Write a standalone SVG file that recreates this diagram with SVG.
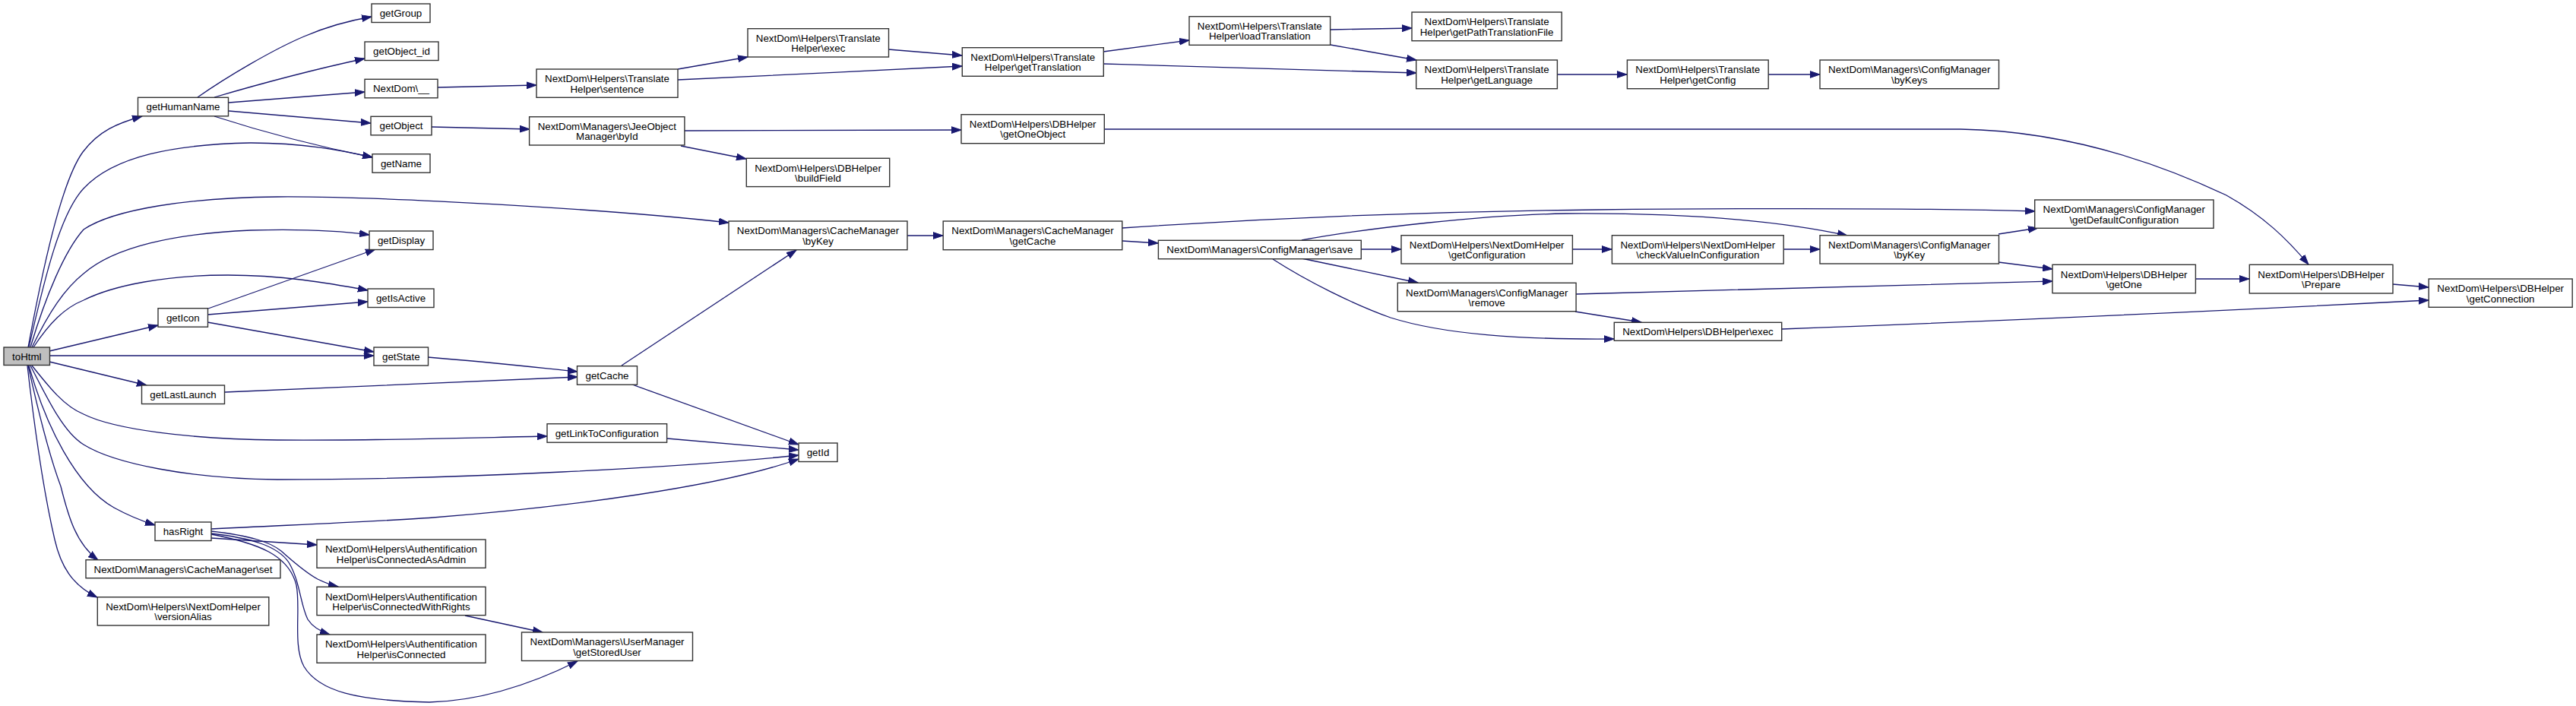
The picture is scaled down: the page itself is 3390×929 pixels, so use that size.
<svg xmlns="http://www.w3.org/2000/svg" width="3390" height="929" viewBox="0 0 3390 929">
<style>
.n rect{fill:#fff;stroke:#333;stroke-width:1.4}
.n rect.root{fill:#bfbfbf}
.n text{font-family:"Liberation Sans",Arial,Helvetica,sans-serif;font-size:13.33px;text-anchor:middle;fill:#000}
.e path{fill:none;stroke:#191970;stroke-width:1.3;marker-end:url(#a)}
</style>
<defs>
<marker id="a" markerUnits="userSpaceOnUse" markerWidth="14" markerHeight="10" viewBox="0 0 14 10" refX="13" refY="5" orient="auto">
<path d="M0,0.6 L13,5 L0,9.4 z" fill="#191970" stroke="#191970" stroke-width="1"/>
</marker>
</defs>
<rect width="3390" height="929" fill="#fff"/>
<g id="edges" class="e">
<path d="M37,457 C55,360 80,240 109,200 C130,172 155,162 187,153"/>
<path d="M38,457 C60,360 80,280 110,248 C150,205 230,190 330,188 C400,188 450,198 490,207"/>
<path d="M40,457 C60,390 85,330 110,302 C150,275 250,260 365,259 C500,258 800,275 959,293"/>
<path d="M42,457 C65,410 85,380 110,360 C150,325 230,307 330,303 C400,301 450,304 486,309"/>
<path d="M44,457 C65,425 85,405 110,395 C150,375 220,362 300,362 C370,362 430,372 484,382"/>
<path d="M65,462 L208,428"/>
<path d="M65,468 L492,468"/>
<path d="M65,476 L193,507"/>
<path d="M42,481 C65,510 85,535 110,545 C150,565 250,578 365,579 C500,580 620,576 720,574"/>
<path d="M40,481 C65,530 85,570 110,585 C150,610 250,630 365,631 C600,631 900,615 1051,599"/>
<path d="M38,481 C60,560 100,640 150,668 C170,679 185,685 204,691"/>
<path d="M37,481 C50,540 65,600 80,640 C90,680 100,715 129,737"/>
<path d="M36,481 C45,560 58,650 72,710 C80,745 95,770 128,786"/>
<path d="M260,128 C300,100 360,65 400,48 C430,35 460,27 489,22"/>
<path d="M282,128 C350,108 420,90 480,77"/>
<path d="M301,135 L480,121"/>
<path d="M301,146 L488,162"/>
<path d="M282,153 C350,175 420,193 490,207"/>
<path d="M274,406 L494,328"/>
<path d="M273,414 L484,397"/>
<path d="M273,424 L492,463"/>
<path d="M563,470 C650,477 710,484 760,489"/>
<path d="M296,516 C450,510 650,500 760,496"/>
<path d="M818,481 L1048,329"/>
<path d="M832,506 L1051,585"/>
<path d="M878,577 L1051,592"/>
<path d="M278,696 C400,690 500,686 570,681 C750,667 950,640 1051,604"/>
<path d="M278,708 L417,717"/>
<path d="M278,699 C330,705 355,713 370,725 C385,738 400,752 418,762 C428,767 436,770 445,772"/>
<path d="M278,702 C330,708 365,718 380,740 C395,765 395,795 405,815 C412,826 422,831 434,835"/>
<path d="M278,703 C340,715 380,730 390,770 C396,800 385,850 400,877 C420,910 470,922 565,924 C640,922 710,895 760,870"/>
<path d="M612,810 L714,832"/>
<path d="M576,115 L706,112"/>
<path d="M568,167 L697,170"/>
<path d="M892,91 L984,75"/>
<path d="M892,105 C1000,100 1150,93 1266,87"/>
<path d="M1169,65 L1266,73"/>
<path d="M1452,68 L1565,53"/>
<path d="M1452,84 C1600,88 1750,92 1864,96"/>
<path d="M1751,39 L1858,37"/>
<path d="M1751,59 L1864,79"/>
<path d="M2049,98 L2141,98"/>
<path d="M2327,98 L2395,98"/>
<path d="M901,172 L1265,171"/>
<path d="M896,192 L982,209"/>
<path d="M1453,170 L2580,170 C2700,172 2820,205 2930,257 C2980,285 3010,315 3038,348"/>
<path d="M1194,310 L1241,310"/>
<path d="M1477,317 L1524,320"/>
<path d="M1477,300 C1700,285 1900,278 2100,276 C2300,274 2500,273 2678,278"/>
<path d="M1713,316 C1800,300 1950,283 2060,281 C2200,280 2330,288 2431,310"/>
<path d="M1791,328 L1844,328"/>
<path d="M1713,340 L1866,372"/>
<path d="M1675,341 C1720,370 1780,400 1830,418 C1900,440 2000,447 2124,446"/>
<path d="M2069,328 L2121,328"/>
<path d="M2347,328 L2395,328"/>
<path d="M2630,308 L2682,300"/>
<path d="M2630,345 L2701,354"/>
<path d="M2074,387 C2300,382 2500,376 2701,370"/>
<path d="M2073,410 L2160,424"/>
<path d="M2345,433 C2700,420 3000,405 3196,395"/>
<path d="M2889,367 L2960,367"/>
<path d="M3149,374 L3196,378"/>
</g>
<g id="toHtml" class="n"><rect class="root" x="5" y="457" width="60.5" height="23.5"/><text x="35.3" y="474">toHtml</text></g>
<g id="getHumanName" class="n"><rect x="181.5" y="128.3" width="119" height="24.5"/><text x="241" y="145.3">getHumanName</text></g>
<g id="getGroup" class="n"><rect x="489" y="5" width="77" height="24.5"/><text x="527.5" y="22">getGroup</text></g>
<g id="getObject_id" class="n"><rect x="480" y="55" width="97" height="24.5"/><text x="528.5" y="72">getObject_id</text></g>
<g id="nextdom__" class="n"><rect x="480" y="104.3" width="96" height="24.5"/><text x="528" y="121.3">NextDom\__</text></g>
<g id="getObject" class="n"><rect x="488" y="153.3" width="80" height="24.5"/><text x="528" y="170.3">getObject</text></g>
<g id="getName" class="n"><rect x="490" y="202.7" width="76" height="24.5"/><text x="528" y="219.7">getName</text></g>
<g id="getDisplay" class="n"><rect x="486" y="304" width="84" height="24.5"/><text x="528" y="321">getDisplay</text></g>
<g id="getIsActive" class="n"><rect x="484" y="380" width="87" height="24.5"/><text x="527.5" y="397">getIsActive</text></g>
<g id="getIcon" class="n"><rect x="208" y="405.7" width="65.5" height="24.5"/><text x="240.8" y="422.7">getIcon</text></g>
<g id="getState" class="n"><rect x="492" y="457" width="71.5" height="24"/><text x="527.8" y="474">getState</text></g>
<g id="getLastLaunch" class="n"><rect x="186.5" y="507" width="109" height="24.5"/><text x="241" y="524">getLastLaunch</text></g>
<g id="hasRight" class="n"><rect x="204" y="687" width="74" height="24.5"/><text x="241" y="704">hasRight</text></g>
<g id="cacheSet" class="n"><rect x="113" y="736.7" width="256" height="24"/><text x="241" y="753.7">NextDom\Managers\CacheManager\set</text></g>
<g id="versionAlias" class="n"><rect x="128.3" y="785.7" width="225.5" height="37.3"/><text x="241" y="803">NextDom\Helpers\NextDomHelper</text><text x="241" y="816.4">\versionAlias</text></g>
<g id="isConnectedAsAdmin" class="n"><rect x="417" y="710" width="222" height="37.3"/><text x="528" y="727.3">NextDom\Helpers\Authentification</text><text x="528" y="740.7">Helper\isConnectedAsAdmin</text></g>
<g id="isConnectedWithRights" class="n"><rect x="417" y="772.3" width="222" height="37.3"/><text x="528" y="789.6">NextDom\Helpers\Authentification</text><text x="528" y="803">Helper\isConnectedWithRights</text></g>
<g id="isConnected" class="n"><rect x="417" y="835" width="222" height="37.3"/><text x="528" y="852.3">NextDom\Helpers\Authentification</text><text x="528" y="865.7">Helper\isConnected</text></g>
<g id="getCache" class="n"><rect x="759.5" y="481.7" width="79" height="24.5"/><text x="799" y="498.7">getCache</text></g>
<g id="getLinkToConfiguration" class="n"><rect x="720" y="557.7" width="157.6" height="24.5"/><text x="798.8" y="574.7">getLinkToConfiguration</text></g>
<g id="getId" class="n"><rect x="1051" y="583" width="51" height="24.5"/><text x="1076.5" y="600">getId</text></g>
<g id="getStoredUser" class="n"><rect x="686.5" y="832" width="225" height="37.5"/><text x="799" y="849.3">NextDom\Managers\UserManager</text><text x="799" y="862.7">\getStoredUser</text></g>
<g id="sentence" class="n"><rect x="706" y="91" width="186" height="37.3"/><text x="799" y="108.3">NextDom\Helpers\Translate</text><text x="799" y="121.7">Helper\sentence</text></g>
<g id="byId" class="n"><rect x="696.6" y="153.7" width="204.3" height="37.3"/><text x="798.8" y="171">NextDom\Managers\JeeObject</text><text x="798.8" y="184.4">Manager\byId</text></g>
<g id="translateExec" class="n"><rect x="984" y="37.7" width="185.5" height="37.3"/><text x="1076.8" y="55">NextDom\Helpers\Translate</text><text x="1076.8" y="68.4">Helper\exec</text></g>
<g id="buildField" class="n"><rect x="982.3" y="208.3" width="188.4" height="37.3"/><text x="1076.5" y="225.6">NextDom\Helpers\DBHelper</text><text x="1076.5" y="239">\buildField</text></g>
<g id="cacheByKey" class="n"><rect x="959" y="291" width="235" height="37.7"/><text x="1076.5" y="308.3">NextDom\Managers\CacheManager</text><text x="1076.5" y="321.7">\byKey</text></g>
<g id="getTranslation" class="n"><rect x="1266.3" y="62.7" width="186" height="37.6"/><text x="1359.3" y="80">NextDom\Helpers\Translate</text><text x="1359.3" y="93.4">Helper\getTranslation</text></g>
<g id="getOneObject" class="n"><rect x="1265" y="150.7" width="188.3" height="38"/><text x="1359.2" y="168">NextDom\Helpers\DBHelper</text><text x="1359.2" y="181.4">\getOneObject</text></g>
<g id="cacheGetCache" class="n"><rect x="1241.2" y="291" width="235.6" height="37.7"/><text x="1359" y="308.3">NextDom\Managers\CacheManager</text><text x="1359" y="321.7">\getCache</text></g>
<g id="loadTranslation" class="n"><rect x="1565" y="21.7" width="185.6" height="37.6"/><text x="1657.8" y="39">NextDom\Helpers\Translate</text><text x="1657.8" y="52.4">Helper\loadTranslation</text></g>
<g id="configSave" class="n"><rect x="1524.4" y="316.3" width="266.9" height="24.4"/><text x="1657.9" y="333.3">NextDom\Managers\ConfigManager\save</text></g>
<g id="getPathTranslationFile" class="n"><rect x="1858" y="16" width="197.2" height="37.7"/><text x="1956.6" y="33.3">NextDom\Helpers\Translate</text><text x="1956.6" y="46.7">Helper\getPathTranslationFile</text></g>
<g id="getLanguage" class="n"><rect x="1863.7" y="79" width="185.7" height="37.7"/><text x="1956.6" y="96.3">NextDom\Helpers\Translate</text><text x="1956.6" y="109.7">Helper\getLanguage</text></g>
<g id="getConfig" class="n"><rect x="2141.4" y="79" width="185.8" height="37.7"/><text x="2234.3" y="96.3">NextDom\Helpers\Translate</text><text x="2234.3" y="109.7">Helper\getConfig</text></g>
<g id="getConfiguration" class="n"><rect x="1844" y="309.7" width="225.4" height="37.3"/><text x="1956.7" y="327">NextDom\Helpers\NextDomHelper</text><text x="1956.7" y="340.4">\getConfiguration</text></g>
<g id="configRemove" class="n"><rect x="1839.3" y="372.3" width="234.8" height="37.4"/><text x="1956.7" y="389.6">NextDom\Managers\ConfigManager</text><text x="1956.7" y="403">\remove</text></g>
<g id="dbExec" class="n"><rect x="2124.3" y="424.3" width="220.4" height="24"/><text x="2234.5" y="441.3">NextDom\Helpers\DBHelper\exec</text></g>
<g id="checkValueInConfiguration" class="n"><rect x="2121.4" y="309.7" width="225.8" height="37.3"/><text x="2234.3" y="327">NextDom\Helpers\NextDomHelper</text><text x="2234.3" y="340.4">\checkValueInConfiguration</text></g>
<g id="byKeys" class="n"><rect x="2395" y="79" width="235.5" height="37.7"/><text x="2512.7" y="96.3">NextDom\Managers\ConfigManager</text><text x="2512.7" y="109.7">\byKeys</text></g>
<g id="configByKey" class="n"><rect x="2395" y="309.7" width="235.5" height="37.3"/><text x="2512.7" y="327">NextDom\Managers\ConfigManager</text><text x="2512.7" y="340.4">\byKey</text></g>
<g id="getDefaultConfiguration" class="n"><rect x="2677.7" y="263" width="235.3" height="37.3"/><text x="2795.3" y="280.3">NextDom\Managers\ConfigManager</text><text x="2795.3" y="293.7">\getDefaultConfiguration</text></g>
<g id="getOne" class="n"><rect x="2701" y="348.3" width="188.4" height="37.4"/><text x="2795.2" y="365.6">NextDom\Helpers\DBHelper</text><text x="2795.2" y="379">\getOne</text></g>
<g id="prepare" class="n"><rect x="2960.3" y="348.3" width="188.7" height="37.7"/><text x="3054.6" y="365.6">NextDom\Helpers\DBHelper</text><text x="3054.6" y="379">\Prepare</text></g>
<g id="getConnection" class="n"><rect x="3196.2" y="367" width="189" height="37.3"/><text x="3290.7" y="384.3">NextDom\Helpers\DBHelper</text><text x="3290.7" y="397.7">\getConnection</text></g>
</svg>
